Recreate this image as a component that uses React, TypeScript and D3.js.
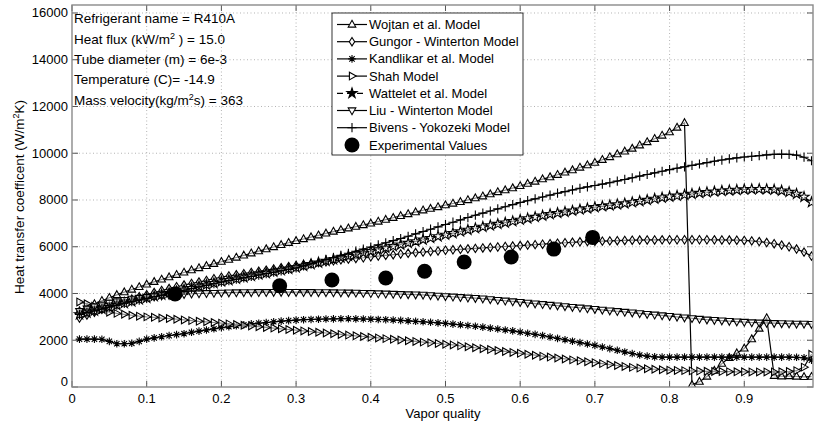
import React, { useEffect, useRef } from "react";
import * as d3 from "d3";

// vapor quality sampling points (0.01 .. 0.99)
const quality = [
  0.01, 0.02, 0.03, 0.04, 0.05, 0.06, 0.07, 0.08, 0.09, 0.1,
  0.11, 0.12, 0.13, 0.14, 0.15, 0.16, 0.17, 0.18, 0.19, 0.2,
  0.21, 0.22, 0.23, 0.24, 0.25, 0.26, 0.27, 0.28, 0.29, 0.3,
  0.31, 0.32, 0.33, 0.34, 0.35, 0.36, 0.37, 0.38, 0.39, 0.4,
  0.41, 0.42, 0.43, 0.44, 0.45, 0.46, 0.47, 0.48, 0.49, 0.5,
  0.51, 0.52, 0.53, 0.54, 0.55, 0.56, 0.57, 0.58, 0.59, 0.6,
  0.61, 0.62, 0.63, 0.64, 0.65, 0.66, 0.67, 0.68, 0.69, 0.7,
  0.71, 0.72, 0.73, 0.74, 0.75, 0.76, 0.77, 0.78, 0.79, 0.8,
  0.81, 0.82, 0.83, 0.84, 0.85, 0.86, 0.87, 0.88, 0.89, 0.9,
  0.91, 0.92, 0.93, 0.94, 0.95, 0.96, 0.97, 0.98, 0.99,
];

const wojtan = [
  3250, 3400, 3550, 3690, 3820, 3940, 4060, 4170, 4280, 4390,
  4500, 4600, 4700, 4800, 4900, 5000, 5090, 5180, 5270, 5360,
  5450, 5540, 5630, 5720, 5810, 5900, 5990, 6080, 6170, 6250,
  6330, 6410, 6490, 6570, 6650, 6720, 6790, 6860, 6930, 7000,
  7080, 7160, 7240, 7320, 7400, 7480, 7560, 7630, 7700, 7780,
  7850, 7920, 8000, 8080, 8160, 8250, 8340, 8420, 8510, 8600,
  8700, 8790, 8890, 8980, 9080, 9180, 9280, 9390, 9490, 9600,
  9720, 9840, 9960, 10080, 10200, 10340, 10480, 10620, 10760, 10900,
  11100, 11300, 90, 230, 450, 700, 1000, 1250, 1450, 1650,
  2050, 2500, 2950, 480, 460, 470, 450, 430, 440,
];

const gungor = [
  2950, 3080, 3200, 3330, 3450, 3560, 3660, 3760, 3860, 3950,
  4040, 4130, 4210, 4290, 4360, 4430, 4490, 4560, 4630, 4700,
  4750, 4800, 4850, 4900, 4950, 5000, 5050, 5100, 5150, 5200,
  5240, 5280, 5320, 5360, 5400, 5440, 5470, 5500, 5530, 5570,
  5600, 5630, 5660, 5690, 5720, 5750, 5770, 5800, 5820, 5850,
  5870, 5890, 5910, 5930, 5950, 5970, 5990, 6010, 6030, 6050,
  6070, 6090, 6110, 6130, 6150, 6170, 6190, 6210, 6220, 6230,
  6240, 6250, 6260, 6270, 6280, 6285, 6290, 6290, 6295, 6300,
  6300, 6300, 6300, 6300, 6300, 6295, 6290, 6285, 6280, 6270,
  6250, 6220, 6180, 6130, 6070, 6000, 5900, 5770, 5600,
];

const kandlikar = [
  2050, 2050, 2050, 2040, 1950, 1850, 1850, 1870, 1950, 2050,
  2100, 2150, 2200, 2240, 2280, 2340, 2390, 2440, 2490, 2540,
  2580, 2620, 2660, 2700, 2730, 2760, 2790, 2820, 2840, 2860,
  2880, 2890, 2900, 2910, 2915, 2920, 2920, 2915, 2910, 2900,
  2890, 2880, 2865, 2850, 2830, 2810, 2790, 2770, 2745, 2720,
  2690, 2660, 2630, 2600, 2560, 2520, 2480, 2440, 2400, 2350,
  2300, 2250, 2200, 2140, 2080, 2020, 1960, 1900, 1840, 1780,
  1710, 1640, 1570, 1500, 1430, 1370, 1320, 1290, 1280, 1280,
  1280, 1280, 1280, 1280, 1280, 1280, 1280, 1280, 1280, 1280,
  1280, 1280, 1280, 1280, 1280, 1280, 1270, 1250, 1150,
];

const shah = [
  3640, 3560, 3450, 3320, 3200, 3150, 3110, 3070, 3030, 3000,
  2980, 2950, 2930, 2900, 2870, 2840, 2810, 2790, 2760, 2730,
  2700, 2670, 2640, 2610, 2580, 2550, 2520, 2490, 2460, 2430,
  2400, 2370, 2340, 2310, 2280, 2250, 2220, 2190, 2160, 2130,
  2100, 2070, 2040, 2010, 1980, 1950, 1920, 1890, 1860, 1830,
  1800, 1760, 1720, 1680, 1640, 1600, 1560, 1520, 1480, 1440,
  1400, 1360, 1320, 1280, 1240, 1200, 1160, 1120, 1080, 1040,
  1000, 960, 920, 880, 840, 810, 780, 760, 740, 720,
  710, 700, 690, 680, 670, 665, 660, 655, 650, 650,
  645, 645, 645, 645, 650, 660, 700, 850, 1400,
];

const wattelet = [
  3100, 3180, 3260, 3340, 3420, 3500, 3580, 3660, 3740, 3810,
  3880, 3950, 4020, 4090, 4160, 4230, 4300, 4370, 4440, 4510,
  4570, 4630, 4690, 4750, 4810, 4870, 4930, 4990, 5050, 5110,
  5180, 5250, 5320, 5390, 5460, 5530, 5600, 5670, 5740, 5810,
  5880, 5950, 6020, 6090, 6160, 6230, 6300, 6370, 6440, 6510,
  6580, 6650, 6720, 6790, 6850, 6910, 6970, 7030, 7090, 7150,
  7210, 7270, 7330, 7390, 7440, 7490, 7540, 7590, 7640, 7690,
  7730, 7770, 7810, 7850, 7900, 7950, 8000, 8050, 8100, 8140,
  8180, 8220, 8260, 8300, 8330, 8360, 8390, 8410, 8430, 8450,
  8460, 8465, 8460, 8440, 8400, 8340, 8260, 8130, 7900,
];

const liu = [
  3250, 3350, 3440, 3520, 3600, 3660, 3720, 3770, 3810, 3850,
  3880, 3910, 3930, 3950, 3970, 3990, 4000, 4010, 4020, 4030,
  4040, 4045, 4050, 4050, 4055, 4055, 4060, 4060, 4060, 4060,
  4055, 4055, 4050, 4050, 4045, 4040, 4035, 4030, 4020, 4010,
  4000, 3990, 3980, 3970, 3960, 3950, 3940, 3920, 3900, 3880,
  3860, 3840, 3820, 3800, 3780, 3750, 3720, 3690, 3660, 3630,
  3600, 3570, 3540, 3510, 3480, 3450, 3420, 3390, 3360, 3330,
  3300, 3270, 3240, 3210, 3180, 3150, 3120, 3090, 3060, 3030,
  3000, 2970, 2940, 2910, 2880, 2860, 2840, 2820, 2800, 2780,
  2760, 2750, 2740, 2730, 2720, 2710, 2700, 2700, 2690,
];

const bivens = [
  3100, 3180, 3260, 3340, 3420, 3500, 3580, 3650, 3720, 3790,
  3860, 3930, 4000, 4070, 4140, 4210, 4280, 4350, 4420, 4490,
  4550, 4610, 4670, 4730, 4790, 4850, 4910, 4970, 5030, 5090,
  5180, 5270, 5360, 5450, 5540, 5630, 5720, 5810, 5900, 5990,
  6080, 6170, 6260, 6350, 6450, 6550, 6650, 6750, 6850, 6950,
  7050, 7150, 7250, 7350, 7440, 7530, 7620, 7710, 7800, 7890,
  7970, 8050, 8130, 8210, 8290, 8360, 8430, 8500, 8560, 8620,
  8680, 8740, 8810, 8880, 8950, 9020, 9090, 9160, 9230, 9300,
  9360, 9420, 9480, 9540, 9600, 9660, 9710, 9760, 9800, 9840,
  9870, 9900, 9930, 9950, 9960, 9950, 9920, 9830, 9680,
];

const expQuality = [0.138, 0.278, 0.348, 0.42, 0.472, 0.525, 0.588, 0.645, 0.697];
const expValues = [3980, 4330, 4580, 4660, 4950, 5350, 5560, 5900, 6400];

const seriesNames = [
  "Wojtan et al. Model",
  "Gungor - Winterton Model",
  "Kandlikar et al. Model",
  "Shah Model",
  "Wattelet et al.  Model",
  "Liu - Winterton Model",
  "Bivens - Yokozeki Model",
];
const seriesValues = [wojtan, gungor, kandlikar, shah, wattelet, liu, bivens];
const seriesMarkers = ["triUp", "diamond", "asterisk", "triRight", "star", "triDown", "plus"];

const xTicks = [0, 0.1, 0.2, 0.3, 0.4, 0.5, 0.6, 0.7, 0.8, 0.9];
const yTicks = [0, 2000, 4000, 6000, 8000, 10000, 12000, 14000, 16000];

const markerPath = (kind) => {
  switch (kind) {
    case "triUp":
      return "M0,-4.2L3.8,2.6L-3.8,2.6Z";
    case "triDown":
      return "M0,4.2L3.8,-2.6L-3.8,-2.6Z";
    case "triRight":
      return "M4.2,0L-2.6,-3.8L-2.6,3.8Z";
    case "diamond":
      return "M0,-4.2L2.7,0L0,4.2L-2.7,0Z";
    case "asterisk":
      return "M-3.8,0H3.8M0,-3.8V3.8M-2.7,-2.7L2.7,2.7M-2.7,2.7L2.7,-2.7";
    case "plus":
      return "M-4.6,0H4.6M0,-4.6V4.6";
    case "star":
      return d3.symbol(d3.symbolStar, 32)();
    default:
      return "";
  }
};

const W = 825;
const H = 423;
const plot = { left: 72, right: 813, top: 5, bottom: 387 };
const FONT = "Arial, 'Liberation Sans', sans-serif";

const App = () => {
  const svgRef = useRef(null);

  useEffect(() => {
    document.body.style.margin = "0";
    const svg = d3.select(svgRef.current).attr("width", W).attr("height", H);
    svg.selectAll("*").remove();

    const x = d3.scaleLinear().domain([0, 0.992]).range([plot.left, plot.right]);
    const y = d3.scaleLinear().domain([0, 16342]).range([plot.bottom, plot.top]);

    svg.append("rect").attr("width", W).attr("height", H).attr("fill", "white");

    // grid
    const grid = svg.append("g").attr("stroke", "#b4b4b4").attr("stroke-width", 1).attr("stroke-dasharray", "1,2.5");
    xTicks.slice(1).forEach((t) => {
      grid.append("line").attr("x1", x(t)).attr("x2", x(t)).attr("y1", plot.top).attr("y2", plot.bottom);
    });
    yTicks.slice(1).forEach((t) => {
      grid.append("line").attr("x1", plot.left).attr("x2", plot.right).attr("y1", y(t)).attr("y2", y(t));
    });

    // ticks (inside, on all four sides)
    const ticks = svg.append("g").attr("stroke", "#555").attr("stroke-width", 1);
    xTicks.forEach((t) => {
      ticks.append("line").attr("x1", x(t)).attr("x2", x(t)).attr("y1", plot.bottom).attr("y2", plot.bottom - 6);
      ticks.append("line").attr("x1", x(t)).attr("x2", x(t)).attr("y1", plot.top).attr("y2", plot.top + 6);
    });
    yTicks.forEach((t) => {
      ticks.append("line").attr("x1", plot.left).attr("x2", plot.left + 6).attr("y1", y(t)).attr("y2", y(t));
      ticks.append("line").attr("x1", plot.right).attr("x2", plot.right - 6).attr("y1", y(t)).attr("y2", y(t));
    });

    // tick labels
    svg.append("g")
      .selectAll("text")
      .data(xTicks)
      .join("text")
      .attr("x", (d) => x(d))
      .attr("y", 403)
      .attr("text-anchor", "middle")
      .attr("font-family", FONT)
      .attr("font-size", 13)
      .text((d) => d3.format("")(d));

    svg.append("g")
      .selectAll("text")
      .data(yTicks)
      .join("text")
      .attr("x", 68)
      .attr("y", (d) => (d === 0 ? y(d) - 1 : y(d) + 4.5))
      .attr("text-anchor", "end")
      .attr("font-family", FONT)
      .attr("font-size", 13)
      .text((d) => d);

    // axis titles
    svg.append("text")
      .attr("x", 443)
      .attr("y", 418)
      .attr("text-anchor", "middle")
      .attr("font-family", FONT)
      .attr("font-size", 13)
      .text("Vapor quality");

    const yt = svg.append("text")
      .attr("transform", "translate(24,197) rotate(-90)")
      .attr("text-anchor", "middle")
      .attr("font-family", FONT)
      .attr("font-size", 13.5);
    yt.append("tspan").text("Heat transfer coefficent (W/m");
    yt.append("tspan").attr("font-size", 9).attr("dy", -5).text("2");
    yt.append("tspan").attr("dy", 5).text("K)");

    // series lines
    const clip = svg.append("clipPath").attr("id", "plotclip");
    clip.append("rect").attr("x", plot.left).attr("y", plot.top).attr("width", plot.right - plot.left).attr("height", plot.bottom - plot.top);

    const line = d3.line().x((d) => x(d[0])).y((d) => y(d[1]));
    const lines = svg.append("g").attr("clip-path", "url(#plotclip)");

    seriesValues.forEach((vals, i) => {
      const pts = quality.map((q, k) => [q, vals[k]]);
      lines.append("path")
        .datum(pts)
        .attr("d", line)
        .attr("fill", "none")
        .attr("stroke", "black")
        .attr("stroke-width", 1.2)
        .attr("stroke-dasharray", seriesMarkers[i] === "star" ? "6,3" : null);

      const mk = seriesMarkers[i];
      const hollow = mk !== "asterisk" && mk !== "plus";
      lines.append("g")
        .selectAll("path")
        .data(pts)
        .join("path")
        .attr("transform", (d) => `translate(${x(d[0])},${y(d[1])})`)
        .attr("d", markerPath(mk))
        .attr("fill", hollow ? "white" : "none")
        .attr("fill-opacity", 0.55)
        .attr("stroke", "black")
        .attr("stroke-width", 1.1);
    });

    // experimental points
    svg.append("g")
      .selectAll("circle")
      .data(expQuality.map((q, k) => [q, expValues[k]]))
      .join("circle")
      .attr("cx", (d) => x(d[0]))
      .attr("cy", (d) => y(d[1]))
      .attr("r", 7.5)
      .attr("fill", "black");

    // axes box
    svg.append("rect")
      .attr("x", plot.left)
      .attr("y", plot.top)
      .attr("width", plot.right - plot.left)
      .attr("height", plot.bottom - plot.top)
      .attr("fill", "none")
      .attr("stroke", "#8a8a8a")
      .attr("stroke-width", 1.4);

    // annotation
    const note = svg.append("g").attr("font-family", FONT).attr("font-size", 13.5);
    note.append("text").attr("x", 74).attr("y", 23).text("Refrigerant name = R410A");
    const hf = note.append("text").attr("x", 74).attr("y", 44);
    hf.append("tspan").text("Heat flux (kW/m");
    hf.append("tspan").attr("font-size", 9).attr("dy", -5).text("2");
    hf.append("tspan").attr("dy", 5).text(" ) = 15.0");
    note.append("text").attr("x", 74).attr("y", 64).text("Tube diameter (m) = 6e-3");
    note.append("text").attr("x", 74).attr("y", 84).text("Temperature (C)= -14.9");
    const mv = note.append("text").attr("x", 74).attr("y", 105);
    mv.append("tspan").text("Mass velocity(kg/m");
    mv.append("tspan").attr("font-size", 9).attr("dy", -5).text("2");
    mv.append("tspan").attr("dy", 5).text("s) = 363");

    // legend
    const lg = svg.append("g");
    lg.append("rect")
      .attr("x", 332)
      .attr("y", 13)
      .attr("width", 191)
      .attr("height", 142)
      .attr("fill", "white")
      .attr("stroke", "black")
      .attr("stroke-width", 0.8);

    seriesNames.forEach((name, i) => {
      const cy = 24.5 + i * 17.2;
      lg.append("line")
        .attr("x1", 337)
        .attr("x2", 367)
        .attr("y1", cy)
        .attr("y2", cy)
        .attr("stroke", "black")
        .attr("stroke-width", 1.2)
        .attr("stroke-dasharray", seriesMarkers[i] === "star" ? "6,4" : null);
      const mk = seriesMarkers[i];
      const hollow = mk !== "asterisk" && mk !== "plus";
      lg.append("path")
        .attr("transform", `translate(352,${cy})`)
        .attr("d", markerPath(mk))
        .attr("fill", mk === "star" ? "black" : hollow ? "white" : "none")
        .attr("stroke", "black")
        .attr("stroke-width", 1.1);
      lg.append("text")
        .attr("x", 369)
        .attr("y", cy + 4.5)
        .attr("font-family", FONT)
        .attr("font-size", 13)
        .text(name);
    });
    lg.append("circle").attr("cx", 352).attr("cy", 145).attr("r", 7.5).attr("fill", "black");
    lg.append("text")
      .attr("x", 369)
      .attr("y", 149.5)
      .attr("font-family", FONT)
      .attr("font-size", 13)
      .text("Experimental Values");
  }, []);

  return (
    <div style={{ position: "relative" }}>
      <svg ref={svgRef}></svg>
    </div>
  );
};

export default App;
